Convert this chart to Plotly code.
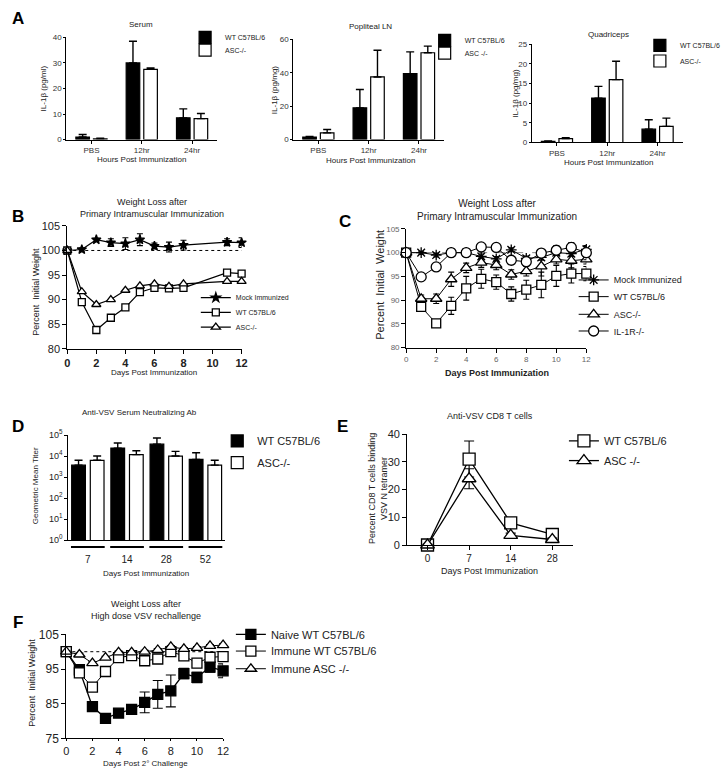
import plotly.graph_objects as go

W, H = 726, 769
FONT = "Liberation Sans, Arial, sans-serif"

# ---------------- data ----------------
a_cats = ["PBS", "12hr", "24hr"]
serum_wt = [1.0, 30.0, 8.5]
serum_wt_err = [1.0, 8.5, 3.5]
serum_asc = [0.3, 27.5, 8.2]
serum_asc_err = [0.2, 0.5, 2.0]
ln_wt = [1.5, 19.0, 39.5]
ln_wt_err = [0.3, 11.0, 13.0]
ln_asc = [4.0, 37.5, 52.0]
ln_asc_err = [2.0, 16.0, 4.0]
quad_wt = [0.3, 11.3, 3.4]
quad_wt_err = [0.1, 3.0, 2.4]
quad_asc = [1.0, 16.0, 4.1]
quad_asc_err = [0.2, 4.7, 2.1]

b_days = [0, 1, 2, 3, 4, 5, 6, 7, 8, 11, 12]
b_mock = [100, 100.2, 102.2, 101.6, 101.4, 102.2, 100.9, 100.7, 101.1, 101.7, 101.6]
b_mock_err = [0.3, 0.3, 0.3, 0.8, 1.2, 1.2, 0.6, 1.0, 1.0, 0.7, 1.0]
b_wt = [100, 89.5, 83.8, 86.3, 88.4, 91.5, 92.4, 92.3, 92.4, 95.5, 95.3]
b_asc = [100, 91.6, 89.0, 90.0, 91.9, 92.8, 93.2, 92.7, 93.2, 93.7, 93.7]

c_days = [0, 1, 2, 3, 4, 5, 6, 7, 8, 9, 10, 11, 12]
c_mock = [100, 100, 99.5, 100, 100, 99.2, 98.7, 100.6, 98.8, 99.0, 100.0, 99.8, 100.7]
c_mock_err = [0.2, 0.3, 0.4, 0.8, 0.4, 0.5, 0.5, 0.4, 0.5, 0.6, 0.6, 0.6, 0.6]
c_wt = [100, 88.6, 85.1, 88.8, 92.5, 94.5, 93.8, 91.3, 92.2, 93.2, 95.1, 95.6, 95.6]
c_wt_err = [0.3, 0.8, 0.6, 1.8, 2.5, 2.0, 1.5, 1.5, 2.0, 2.7, 2.2, 2.0, 1.5]
c_asc = [100, 90.3, 90.3, 94.4, 96.8, 97.9, 97.4, 95.4, 96.1, 97.1, 98.6, 98.3, 98.6]
c_asc_err = [0.3, 0.8, 1.0, 1.5, 1.0, 1.0, 1.0, 1.0, 1.0, 2.0, 1.0, 1.5, 1.0]
c_il1r = [100, 94.9, 97.0, 100.0, 100.0, 101.2, 101.1, 98.4, 98.1, 99.9, 100.5, 101.1, 100.0]
c_il1r_err = [0.3, 0.5, 0.5, 0.5, 0.5, 0.5, 0.5, 0.8, 0.8, 0.8, 1.0, 1.0, 1.5]

d_days = ["7", "14", "28", "52"]
d_wt = [3700, 24000, 37000, 6900]
d_wt_hi = [6300, 42000, 73000, 14500]
d_asc = [6300, 11700, 10000, 3700]
d_asc_hi = [10000, 18000, 16700, 6300]

e_days = ["0", "7", "14", "28"]
e_wt = [0, 31.0, 8.0, 3.8]
e_wt_err = [0.3, 6.5, 1.0, 0.5]
e_asc = [0, 23.9, 3.5, 2.0]
e_asc_err = [0.3, 3.6, 0.8, 0.5]

f_days = [0, 1, 2, 3, 4, 5, 6, 7, 8, 9, 10, 11, 12]
f_naive = [100, 94.8, 84.2, 80.8, 82.3, 83.4, 85.4, 87.7, 88.7, 93.7, 92.6, 95.6, 94.5]
f_naive_err = [0.3, 0.5, 0.5, 0.5, 0.5, 1.2, 3.0, 4.0, 4.6, 1.5, 1.5, 1.5, 2.0]
f_iwt = [100, 93.9, 89.8, 94.3, 98.3, 98.9, 97.4, 97.9, 100.0, 98.8, 96.7, 98.4, 98.6]
f_iwt_err = [0.3, 0.5, 1.2, 0.8, 0.5, 0.5, 0.5, 0.5, 0.5, 0.5, 0.8, 0.8, 0.8]
f_iasc = [100, 99.2, 96.7, 98.3, 99.8, 99.8, 100.0, 100.5, 101.4, 100.8, 101.1, 101.7, 101.9]
f_iasc_err = [0.3, 0.4, 0.5, 0.4, 0.4, 0.4, 0.4, 0.4, 0.4, 0.4, 0.4, 0.4, 0.4]

baseline = 100


# ---------------- helpers ----------------
def xd(a, b):
    return [a / W, b / W]


def yd(top, bottom):
    return [1 - bottom / H, 1 - top / H]


def px(x):
    return x / W


def py(y):
    return 1 - y / H


fig = go.Figure()
legends = {}
leg_count = [0]


def new_legend(text_x, center_y, size):
    leg_count[0] += 1
    n = leg_count[0]
    key = "legend" if n == 1 else f"legend{n}"
    legends[key] = dict(
        x=px(text_x - 40), y=py(center_y), xanchor="left", yanchor="middle",
        bgcolor="rgba(0,0,0,0)", borderwidth=0,
        font=dict(family=FONT, size=size, color="#222"),
        itemwidth=30, tracegroupgap=0,
    )
    return key


def bar_pair(ax, cats, wt, wt_err, asc, asc_err, width, gap, legpos, lsize, asc_name):
    xa = "x" if ax == 1 else f"x{ax}"
    ya = "y" if ax == 1 else f"y{ax}"
    fig.add_trace(go.Bar(
        x=cats, y=wt, name="WT C57BL/6", xaxis=xa, yaxis=ya,
        width=width, offset=-(width + gap / 2),
        marker=dict(color="black", line=dict(color="black", width=1.2)),
        error_y=dict(type="data", array=wt_err, arrayminus=[0] * len(wt), symmetric=False,
                     color="black", thickness=1.4, width=4),
        legend=new_legend(legpos[0], legpos[1], lsize),
    ))
    fig.add_trace(go.Bar(
        x=cats, y=asc, name=asc_name, xaxis=xa, yaxis=ya,
        width=width, offset=gap / 2,
        marker=dict(color="white", line=dict(color="black", width=1.2)),
        error_y=dict(type="data", array=asc_err, arrayminus=[0] * len(asc), symmetric=False,
                     color="black", thickness=1.4, width=4),
        legend=new_legend(legpos[0], legpos[2], lsize),
    ))


def line_trace(ax, xs, ys, err, name, symbol, size, fill, legxy, lsize, lw=1.2, ew=3, mlw=1.3):
    xa = f"x{ax}"
    ya = f"y{ax}"
    kw = {}
    if err is not None:
        kw["error_y"] = dict(type="data", array=err, color="black", thickness=1.1, width=ew)
    fig.add_trace(go.Scatter(
        x=xs, y=ys, name=name, xaxis=xa, yaxis=ya, mode="lines+markers",
        line=dict(color="black", width=lw),
        marker=dict(symbol=symbol, size=size, color=fill, line=dict(color="black", width=mlw)),
        cliponaxis=False,
        legend=new_legend(legxy[0], legxy[1], lsize),
        **kw,
    ))


# ---------------- panel A ----------------
bar_pair(1, a_cats, serum_wt, serum_wt_err, serum_asc, serum_asc_err, 0.27, 0.08,
         (227, 31, 44), 7, "ASC-/-")
bar_pair(2, a_cats, ln_wt, ln_wt_err, ln_asc, ln_asc_err, 0.27, 0.08,
         (473, 34, 47), 7, "ASC -/-")
bar_pair(3, a_cats, quad_wt, quad_wt_err, quad_asc, quad_asc_err, 0.27, 0.08,
         (694, 39, 55), 7, "ASC-/-")

# ---------------- panel B ----------------
line_trace(4, b_days, b_mock, b_mock_err, "Mock Immunized", "star", 7, "black", (238, 296), 7)
line_trace(4, b_days, b_wt, None, "WT C57BL/6", "square", 7, "white", (238, 311), 7)
line_trace(4, b_days, b_asc, None, "ASC-/-", "triangle-up", 8, "white", (238, 326), 7)

# ---------------- panel C ----------------
line_trace(5, c_days, c_mock, c_mock_err, "Mock Immunized", "asterisk-open", 9, "black", (626, 278), 9, lw=1.0)
line_trace(5, c_days, c_wt, c_wt_err, "WT C57BL/6", "square", 9, "white", (626, 295), 9, lw=1.0)
line_trace(5, c_days, c_asc, c_asc_err, "ASC-/-", "triangle-up", 10, "white", (626, 313), 9, lw=1.0)
line_trace(5, c_days, c_il1r, c_il1r_err, "IL-1R-/-", "circle", 10, "white", (626, 330), 9, lw=1.0)

# ---------------- panel D ----------------
d_wt_err = [h - v for h, v in zip(d_wt_hi, d_wt)]
d_asc_err = [h - v for h, v in zip(d_asc_hi, d_asc)]
bar_pair(6, d_days, d_wt, d_wt_err, d_asc, d_asc_err, 0.35, 0.125,
         (260, 442, 464), 11, "ASC-/-")

# ---------------- panel E ----------------
line_trace(7, e_days, e_wt, e_wt_err, "WT C57BL/6", "square", 12, "white", (616, 442), 11, lw=1.3, ew=5)
line_trace(7, e_days, e_asc, e_asc_err, "ASC -/-", "triangle-up", 12, "white", (616, 462), 11, lw=1.3, ew=5)

# ---------------- panel F ----------------
line_trace(8, f_days, f_naive, f_naive_err, "Naive WT C57BL/6", "square", 10, "black", (274, 639), 11, lw=1.3, ew=5)
line_trace(8, f_days, f_iwt, f_iwt_err, "Immune WT C57BL/6", "square", 10, "white", (274, 656), 11, lw=1.0, ew=4)
line_trace(8, f_days, f_iasc, f_iasc_err, "Immune ASC -/-", "triangle-up", 10, "white", (274, 674), 11, lw=1.0, ew=4)


# ---------------- axes ----------------
def axstyle(size=8, color="#333", weight="normal", **kw):
    d = dict(showline=True, linecolor="black", linewidth=1, ticks="outside", ticklen=3,
             tickcolor="black", tickwidth=1, showgrid=False, zeroline=False, mirror=False,
             tickfont=dict(family=FONT, size=size, color=color, weight=weight))
    d.update(kw)
    return d


layout = dict(
    width=W, height=H, margin=dict(l=0, r=0, t=0, b=0),
    paper_bgcolor="white", plot_bgcolor="rgba(0,0,0,0)",
    font=dict(family=FONT, color="#222"),
    showlegend=True, barmode="group",
)

layout["xaxis"] = axstyle(8, domain=xd(65, 220), anchor="y", range=[-0.5, 2.5])
layout["yaxis"] = axstyle(8, domain=yd(31, 135), anchor="x", range=[0, 40], tickvals=[0, 10, 20, 30, 40], ticklen=2)
layout["xaxis2"] = axstyle(8, domain=xd(298, 453), anchor="y2", range=[-0.5, 2.5])
layout["yaxis2"] = axstyle(8, domain=yd(33, 135), anchor="x2", range=[0, 60], tickvals=[0, 20, 40, 60], ticklen=2)
layout["xaxis3"] = axstyle(8, domain=xd(543, 698), anchor="y3", range=[-0.5, 2.5])
layout["yaxis3"] = axstyle(8, domain=yd(38, 138), anchor="x3", range=[0, 25], tickvals=[0, 5, 10, 15, 20, 25], ticklen=2)
layout["xaxis4"] = axstyle(11, "#222", "bold", domain=xd(66, 245), anchor="y4", range=[0, 12], tickvals=[0, 2, 4, 6, 8, 10, 12], ticklen=4)
layout["yaxis4"] = axstyle(11, "#222", domain=yd(223, 348), anchor="x4", range=[80, 105], tickvals=[80, 85, 90, 95, 100, 105], ticklen=4)
layout["xaxis5"] = axstyle(8, "#666", domain=xd(414, 599), anchor="y5", range=[0, 12], tickvals=[0, 2, 4, 6, 8, 10, 12], ticklen=4)
layout["yaxis5"] = axstyle(8, "#666", domain=yd(226, 347), anchor="x5", range=[80, 105], tickvals=[80, 85, 90, 95, 100, 105], ticklen=4)
layout["xaxis6"] = axstyle(10, "#222", domain=xd(67, 228), anchor="y6", range=[-0.5, 3.5], ticks="", ticklabelstandoff=10)
layout["yaxis6"] = axstyle(9, "#222", domain=yd(436, 543), anchor="x6", type="log", range=[0, 5],
                           tickvals=[1, 10, 100, 1000, 10000, 100000],
                           ticktext=["10<sup>0</sup>", "10<sup>1</sup>", "10<sup>2</sup>", "10<sup>3</sup>", "10<sup>4</sup>", "10<sup>5</sup>"])
layout["xaxis7"] = axstyle(10, "#222", domain=xd(415, 585), anchor="y7", range=[-0.49, 3.49], ticklen=4)
layout["yaxis7"] = axstyle(11, "#222", domain=yd(435, 548), anchor="x7", range=[0, 40], tickvals=[0, 10, 20, 30, 40], ticklen=4)
layout["xaxis8"] = axstyle(11, "#222", domain=xd(65, 226), anchor="y8", range=[0, 12], tickvals=[0, 2, 4, 6, 8, 10, 12], ticklen=2)
layout["yaxis8"] = axstyle(12, "#222", domain=yd(639, 745), anchor="x8", range=[75, 105], tickvals=[75, 85, 95, 105], ticklen=4)

layout.update(legends)
fig.update_layout(**layout)

# ---------------- reference lines & decorations ----------------
shapes = [
    dict(type="line", xref="x4", yref="y4", x0=0, x1=12, y0=baseline, y1=baseline,
         line=dict(color="black", width=1, dash="dot"), layer="below"),
    dict(type="line", xref="x5", yref="y5", x0=0, x1=12, y0=baseline, y1=baseline,
         line=dict(color="#888", width=1, dash="dash"), layer="below"),
    dict(type="line", xref="x8", yref="y8", x0=0, x1=12, y0=baseline, y1=baseline,
         line=dict(color="black", width=1, dash="dot"), layer="below"),
]
for i in range(len(d_days)):
    shapes.append(dict(type="line", xref="x6", yref="paper", x0=i - 0.43, x1=i + 0.43,
                       y0=py(550), y1=py(550), line=dict(color="black", width=2)))
fig.update_layout(shapes=shapes)


def ann(text, x, y, size=9, bold=False, angle=0, color="#222", xanchor="center", yanchor="middle"):
    fig.add_annotation(text=text, x=px(x), y=py(y), xref="paper", yref="paper",
                       showarrow=False, textangle=angle, xanchor=xanchor, yanchor=yanchor,
                       font=dict(family=FONT, size=size, color=color, weight="bold" if bold else "normal"))


for letter, x, y in [("A", 15, 12), ("B", 15, 213), ("C", 351, 218), ("D", 15, 427), ("E", 349, 427), ("F", 15, 627)]:
    ann(letter, x, y, size=17, bold=True, color="black")

ann("Serum", 142, 18, 8)
ann("Popliteal LN", 377, 20, 8)
ann("Quadriceps", 622, 28, 8)
ann("Weight Loss after<br>Primary Intramuscular Immunization", 153, 205, 9)
ann("Weight Loss after<br>Primary Intramuscular Immunization", 507, 207, 10)
ann("Anti-VSV Serum Neutralizing Ab", 140, 413, 8)
ann("Anti-VSV CD8 T cells", 500, 417, 9)
ann("Weight Loss after<br>High dose VSV rechallenge", 147, 614, 9)

ann("Hours Post Immunization", 142, 155, 8)
ann("Hours Post Immunization", 377, 156, 8)
ann("Hours Post Immunization", 622, 158, 8)
ann("Days Post Immunization", 155, 372, 8)
ann("Days Post Immunization", 507, 373, 9, bold=True)
ann("Days Post Immunization", 147, 577, 8)
ann("Days Post Immunization", 500, 574, 9)
ann("Days Post 2° Challenge", 146, 764, 8, yanchor="top")

ann("IL-1β (pg/ml)", 42, 83, 8, angle=-90)
ann("IL-1β (pg/mg)", 279, 84, 8, angle=-90)
ann("IL-1β (pg/mg)", 526, 88, 8, angle=-90)
ann("Percent  Initial Weight", 34, 290, 9, angle=-90)
ann("Percent  Initial  Weight", 387, 283, 11, angle=-90)
ann("Geometric Mean Titer", 33, 488, 8, angle=-90)
ann("Percent CD8 T cells binding<br>VSV N tetramer", 385, 490, 9, angle=-90)
ann("Percent  Initial Weight", 30, 688, 9, angle=-90)

fig.add_annotation(text="*", x="14", y=13, xref="x7", yref="y7", showarrow=False,
                   font=dict(family=FONT, size=12, color="#222"))

fig.write_html("out.html")
